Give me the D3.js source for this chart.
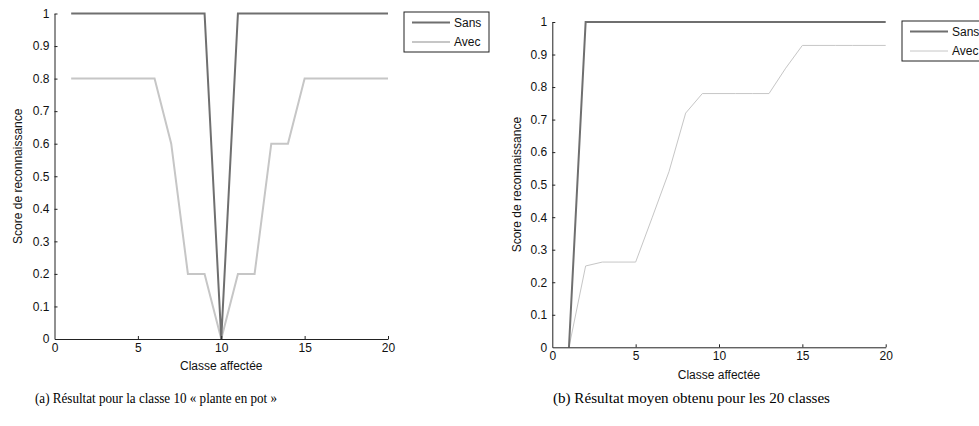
<!DOCTYPE html>
<html>
<head>
<meta charset="utf-8">
<script src="https://cdn.jsdelivr.net/npm/d3@7"></script>
<style>
  body { margin: 0; background: #fff; }
  svg { display: block; }
  .axis text { font-family: "Liberation Sans", Arial, sans-serif; font-size: 12px; fill: #111; }
  .axis path, .axis line { stroke: #222; }
</style>
</head>
<body>
<svg id="chart"></svg>
<script>
// classes on the x axis
var classes = d3.range(1, 21)

// (a) class 10 "plante en pot"
var sansA = [1,1,1,1,1,1,1,1,1,0,1,1,1,1,1,1,1,1,1,1]
var avecA = [0.8,0.8,0.8,0.8,0.8,0.8,0.6,0.2,0.2,0,0.2,0.2,0.6,0.6,0.8,0.8,0.8,0.8,0.8,0.8]

// (b) mean over the 20 classes
var sansB = [0,1,1,1,1,1,1,1,1,1,1,1,1,1,1,1,1,1,1,1]
var avecB = [0,0.25,0.262,0.262,0.262,0.40,0.54,0.72,0.78,0.78,0.78,0.78,0.78,0.858,0.928,0.928,0.928,0.928,0.928,0.928]

var xTicks = [0,5,10,15,20]
var yTicks = d3.range(0, 11).map(function(i){ return i/10 })
var seriesNames = ["Sans","Avec"]
var captions = ["(a)  Résultat pour la classe 10 « plante en pot »", "(b)  Résultat moyen obtenu pour les 20 classes"]

var screen = {width:979, height:426}

var svg = d3.select("#chart")
            .attr("width", screen.width)
            .attr("height", screen.height)

var panels = [
  {left:54.5, right:388, top:13.5, bottom:339, sans:sansA, avec:avecA, avecWidth:2,
   legend:{x:404, y:12, w:85, h:40}, ylabX:18, xlabY:370, caption:captions[0], capX:35, capW:242},
  {left:552.3, right:885.7, top:22, bottom:347.3, sans:sansB, avec:avecB, avecWidth:1,
   legend:{x:902, y:21, w:100, h:40}, ylabX:517, xlabY:379, caption:captions[1], capX:553, capW:277}
]

var drawPanel = function(p)
{
    var xScale = d3.scaleLinear().domain([0,20]).range([p.left, p.right])
    var yScale = d3.scaleLinear().domain([0,1]).range([p.bottom, p.top])

    var g = svg.append("g")

    var line = d3.line()
                 .x(function(d,i){ return xScale(classes[i]) })
                 .y(function(d){ return yScale(d) })

    g.append("path")
     .datum(p.avec)
     .attr("d", line)
     .attr("fill","none")
     .attr("stroke","#c6c6c6")
     .attr("stroke-width", p.avecWidth)

    g.append("path")
     .datum(p.sans)
     .attr("d", line)
     .attr("fill","none")
     .attr("stroke","#6f6f6f")
     .attr("stroke-width", 2)

    g.append("g")
     .attr("class","axis")
     .attr("transform","translate(0,"+p.bottom+")")
     .call(d3.axisBottom(xScale).tickValues(xTicks).tickSizeInner(-3).tickSizeOuter(0).tickPadding(4))

    g.append("g")
     .attr("class","axis")
     .attr("transform","translate("+p.left+",0)")
     .call(d3.axisLeft(yScale).tickValues(yTicks).tickFormat(d3.format("")).tickSizeInner(-3).tickSizeOuter(0).tickPadding(5))

    g.selectAll(".axis .tick").filter(function(d){ return d === 0 }).select("line").remove()

    // axis titles
    g.append("text")
     .attr("transform","translate("+p.ylabX+","+((p.top+p.bottom)/2)+") rotate(-90)")
     .attr("text-anchor","middle")
     .attr("dy","0.35em")
     .style("font-family","Liberation Sans, Arial, sans-serif")
     .style("font-size","12px")
     .attr("fill","#111")
     .text("Score de reconnaissance")

    g.append("text")
     .attr("x", (p.left+p.right)/2)
     .attr("y", p.xlabY)
     .attr("text-anchor","middle")
     .style("font-family","Liberation Sans, Arial, sans-serif")
     .style("font-size","12px")
     .attr("fill","#111")
     .text("Classe affectée")

    // legend
    var lg = g.append("g").attr("transform","translate("+p.legend.x+","+p.legend.y+")")
    lg.append("rect")
      .attr("width", p.legend.w).attr("height", p.legend.h)
      .attr("fill","#fff").attr("stroke","#222").attr("stroke-width",1)
    var legendItems = [{name:seriesNames[0], color:"#6f6f6f", w:2},
                       {name:seriesNames[1], color:"#c6c6c6", w:p.avecWidth}]
    var items = lg.selectAll("g.item")
                  .data(legendItems)
                  .enter()
                  .append("g")
                  .attr("class","item")
                  .attr("transform", function(d,i){ return "translate(0,"+(10.5+i*19.5)+")" })
    items.append("line")
         .attr("x1",8).attr("x2",46)
         .attr("stroke", function(d){ return d.color })
         .attr("stroke-width", function(d){ return d.w })
    items.append("text")
         .attr("x",50)
         .attr("dy","0.35em")
         .style("font-family","Liberation Sans, Arial, sans-serif")
         .style("font-size","12px")
         .attr("fill","#111")
         .text(function(d){ return d.name })

    // caption
    svg.append("text")
       .attr("x", p.capX)
       .attr("y", 403)
       .attr("textLength", p.capW)
       .attr("lengthAdjust","spacingAndGlyphs")
       .style("font-family","Liberation Serif, Times New Roman, serif")
       .style("font-size","15.5px")
       .attr("fill","#000")
       .text(p.caption)
}

panels.forEach(drawPanel)
</script>
</body>
</html>
